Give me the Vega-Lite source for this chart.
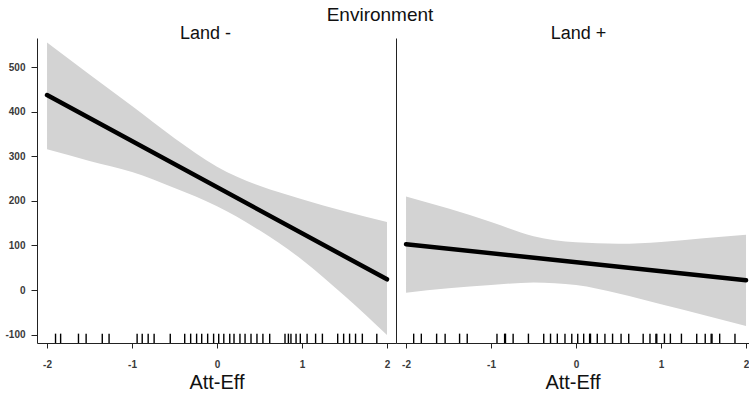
{
  "$schema": "https://vega.github.io/schema/vega-lite/v6.json",
  "background": "white",
  "padding": {"left": 4, "top": 6, "right": 0, "bottom": 0},
  "spacing": 0,
  "title": {"text": "Environment", "font": "Liberation Sans", "fontSize": 19, "fontWeight": "normal", "color": "#111", "anchor": "middle", "offset": 0},
  "config": {
    "view": {"stroke": null},
    "font": "Liberation Sans",
    "axis": {"grid": false, "domainColor": "#222", "tickColor": "#222", "labelColor": "#3a3a3a", "labelFont": "Liberation Sans", "labelFontSize": 10, "labelFontWeight": "bold", "titleFont": "Liberation Sans", "titleFontWeight": "normal", "titleColor": "#111", "labelExpr": "'' + datum.value"}
  },
  "datasets": {
    "band": [
      {"panel": "L-", "x": -2, "lo": 316, "hi": 556},
      {"panel": "L-", "x": -1.5, "lo": 290, "hi": 484},
      {"panel": "L-", "x": -1, "lo": 265, "hi": 413},
      {"panel": "L-", "x": -0.5, "lo": 229, "hi": 341},
      {"panel": "L-", "x": 0, "lo": 188, "hi": 277},
      {"panel": "L-", "x": 0.5, "lo": 134, "hi": 234},
      {"panel": "L-", "x": 1, "lo": 68, "hi": 204},
      {"panel": "L-", "x": 1.5, "lo": -13, "hi": 177},
      {"panel": "L-", "x": 2, "lo": -101, "hi": 153},
      {"panel": "L+", "x": -2, "lo": -6, "hi": 210},
      {"panel": "L+", "x": -1.5, "lo": 4, "hi": 183},
      {"panel": "L+", "x": -1, "lo": 11, "hi": 153},
      {"panel": "L+", "x": -0.5, "lo": 17, "hi": 121},
      {"panel": "L+", "x": 0, "lo": 11, "hi": 107},
      {"panel": "L+", "x": 0.5, "lo": -8, "hi": 104},
      {"panel": "L+", "x": 1, "lo": -32, "hi": 108},
      {"panel": "L+", "x": 1.5, "lo": -56, "hi": 116},
      {"panel": "L+", "x": 2, "lo": -81, "hi": 124}
    ],
    "fit": [
      {"panel": "L-", "x": -2, "y": 438},
      {"panel": "L-", "x": 2, "y": 24},
      {"panel": "L+", "x": -2, "y": 103},
      {"panel": "L+", "x": 2, "y": 22}
    ],
    "rug": [
      {"panel": "L-", "x": -1.90}, {"panel": "L-", "x": -1.84}, {"panel": "L-", "x": -1.63}, {"panel": "L-", "x": -1.54},
      {"panel": "L-", "x": -1.35}, {"panel": "L-", "x": -1.27}, {"panel": "L-", "x": -0.94}, {"panel": "L-", "x": -0.88},
      {"panel": "L-", "x": -0.81}, {"panel": "L-", "x": -0.74}, {"panel": "L-", "x": -0.55}, {"panel": "L-", "x": -0.38},
      {"panel": "L-", "x": -0.31}, {"panel": "L-", "x": -0.24}, {"panel": "L-", "x": -0.18}, {"panel": "L-", "x": -0.11},
      {"panel": "L-", "x": -0.04}, {"panel": "L-", "x": 0.02}, {"panel": "L-", "x": 0.08}, {"panel": "L-", "x": 0.15},
      {"panel": "L-", "x": 0.20}, {"panel": "L-", "x": 0.27}, {"panel": "L-", "x": 0.33}, {"panel": "L-", "x": 0.40},
      {"panel": "L-", "x": 0.47}, {"panel": "L-", "x": 0.54}, {"panel": "L-", "x": 0.62}, {"panel": "L-", "x": 0.80},
      {"panel": "L-", "x": 0.84}, {"panel": "L-", "x": 0.87}, {"panel": "L-", "x": 0.93}, {"panel": "L-", "x": 0.98},
      {"panel": "L-", "x": 1.06}, {"panel": "L-", "x": 1.16}, {"panel": "L-", "x": 1.24}, {"panel": "L-", "x": 1.42},
      {"panel": "L-", "x": 1.49}, {"panel": "L-", "x": 1.56}, {"panel": "L-", "x": 1.63}, {"panel": "L-", "x": 1.71},
      {"panel": "L-", "x": 1.88},
      {"panel": "L+", "x": -1.91}, {"panel": "L+", "x": -1.82}, {"panel": "L+", "x": -1.64}, {"panel": "L+", "x": -1.54},
      {"panel": "L+", "x": -1.37}, {"panel": "L+", "x": -1.28}, {"panel": "L+", "x": -0.93}, {"panel": "L+", "x": -0.84},
      {"panel": "L+", "x": -0.83}, {"panel": "L+", "x": -0.74}, {"panel": "L+", "x": -0.56}, {"panel": "L+", "x": -0.38},
      {"panel": "L+", "x": -0.30}, {"panel": "L+", "x": -0.22}, {"panel": "L+", "x": -0.13}, {"panel": "L+", "x": -0.05},
      {"panel": "L+", "x": 0.02}, {"panel": "L+", "x": 0.09}, {"panel": "L+", "x": 0.16}, {"panel": "L+", "x": 0.17},
      {"panel": "L+", "x": 0.25}, {"panel": "L+", "x": 0.34}, {"panel": "L+", "x": 0.43}, {"panel": "L+", "x": 0.53},
      {"panel": "L+", "x": 0.62}, {"panel": "L+", "x": 0.79}, {"panel": "L+", "x": 0.87}, {"panel": "L+", "x": 0.94},
      {"panel": "L+", "x": 0.95}, {"panel": "L+", "x": 1.04}, {"panel": "L+", "x": 1.11}, {"panel": "L+", "x": 1.24},
      {"panel": "L+", "x": 1.42}, {"panel": "L+", "x": 1.52}, {"panel": "L+", "x": 1.59}, {"panel": "L+", "x": 1.60},
      {"panel": "L+", "x": 1.69}, {"panel": "L+", "x": 1.87}
    ]
  },
  "hconcat": [
    {
      "width": 359,
      "height": 305,
      "title": {"text": "Land -", "fontSize": 18, "fontWeight": "normal", "color": "#111", "anchor": "middle", "dx": -11, "offset": -5},
      "layer": [
        {
          "data": {"name": "band"},
          "transform": [{"filter": "datum.panel === 'L-'"}],
          "mark": {"type": "area", "color": "#d3d3d3", "interpolate": "monotone"},
          "encoding": {
            "x": {"field": "x", "type": "quantitative", "scale": {"domain": [-2.118, 2.106], "nice": false, "zero": false},
                  "axis": {"values": [-2, -1, 0, 1, 2], "title": "Att-Eff", "titleFontSize": 20, "tickSize": 5, "labelPadding": 11, "titlePadding": 3}},
            "y": {"field": "hi", "type": "quantitative", "scale": {"domain": [-119, 566], "nice": false, "zero": false},
                  "axis": {"values": [-100, 0, 100, 200, 300, 400, 500], "title": null, "tickSize": 6, "labelPadding": 6}},
            "y2": {"field": "lo"}
          }
        },
        {
          "data": {"name": "fit"},
          "transform": [{"filter": "datum.panel === 'L-'"}],
          "mark": {"type": "line", "color": "black", "strokeWidth": 4.5, "strokeCap": "round"},
          "encoding": {
            "x": {"field": "x", "type": "quantitative"},
            "y": {"field": "y", "type": "quantitative"}
          }
        },
        {
          "data": {"name": "rug"},
          "transform": [{"filter": "datum.panel === 'L-'"}],
          "mark": {"type": "rule", "color": "black", "strokeWidth": 1.4},
          "encoding": {
            "x": {"field": "x", "type": "quantitative"},
            "y": {"datum": -119},
            "y2": {"datum": -98}
          }
        }
      ]
    },
    {
      "width": 353,
      "height": 305,
      "title": {"text": "Land +", "fontSize": 18, "fontWeight": "normal", "color": "#111", "anchor": "middle", "dx": 6, "offset": -5},
      "layer": [
        {
          "data": {"name": "band"},
          "transform": [{"filter": "datum.panel === 'L+'"}],
          "mark": {"type": "area", "color": "#d3d3d3", "interpolate": "monotone"},
          "encoding": {
            "x": {"field": "x", "type": "quantitative", "scale": {"domain": [-2.118, 2.035], "nice": false, "zero": false},
                  "axis": {"values": [-2, -1, 0, 1, 2], "title": "Att-Eff", "titleFontSize": 20, "tickSize": 5, "labelPadding": 11, "titlePadding": 3, "labelBound": false}},
            "y": {"field": "hi", "type": "quantitative", "scale": {"domain": [-119, 566], "nice": false, "zero": false},
                  "axis": {"labels": false, "ticks": false, "title": null, "domain": true}},
            "y2": {"field": "lo"}
          }
        },
        {
          "data": {"name": "fit"},
          "transform": [{"filter": "datum.panel === 'L+'"}],
          "mark": {"type": "line", "color": "black", "strokeWidth": 4.5, "strokeCap": "round"},
          "encoding": {
            "x": {"field": "x", "type": "quantitative"},
            "y": {"field": "y", "type": "quantitative"}
          }
        },
        {
          "data": {"name": "rug"},
          "transform": [{"filter": "datum.panel === 'L+'"}],
          "mark": {"type": "rule", "color": "black", "strokeWidth": 1.4},
          "encoding": {
            "x": {"field": "x", "type": "quantitative"},
            "y": {"datum": -119},
            "y2": {"datum": -98}
          }
        }
      ]
    }
  ]
}
